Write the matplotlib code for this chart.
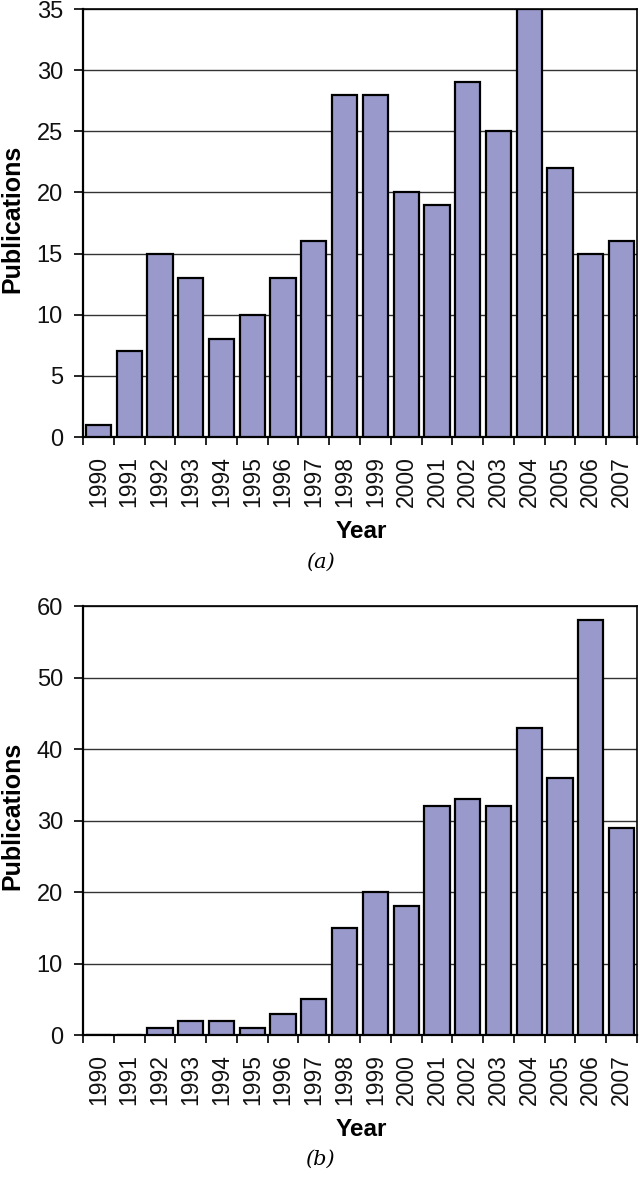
import matplotlib
matplotlib.use("Agg")
import matplotlib.pyplot as plt
import numpy as np

years = [str(y) for y in range(1990, 2008)]
pubs_a = [1, 7, 15, 13, 8, 10, 13, 16, 28, 28, 20, 19, 29, 25, 35, 22, 15, 16]
pubs_b = [0, 0, 1, 2, 2, 1, 3, 5, 15, 20, 18, 32, 33, 32, 43, 36, 58, 29]

plt.rcParams['font.family'] = ['Liberation Sans', 'DejaVu Sans']

bar_color = "#9999cc"

W, H = 640, 1193
fig = plt.figure(figsize=(W / 100, H / 100), dpi=100)


def draw_panel(ax, values, ymax, ystep, tag, tag_y, year_y):
    x = np.arange(len(values))
    ax.set_axisbelow(True)
    ax.bar(x, values, width=0.82, color=bar_color, edgecolor="black", linewidth=1.6, zorder=3)
    ax.set_xlim(-0.5, len(values) - 0.5)
    ax.set_ylim(0, ymax)
    ax.set_yticks(np.arange(0, ymax + 1, ystep))
    ax.yaxis.grid(True, color="#333333", linewidth=1.0)
    # ticks between the categories, labels in the middle
    ax.set_xticks(np.arange(-0.5, len(values), 1.0))
    ax.set_xticklabels([])
    ax.set_xticks(x, minor=True)
    ax.set_xticklabels(years, minor=True, rotation=90, fontsize=16.5, color="#111111")
    ax.tick_params(axis="x", which="major", direction="out", length=6, width=1.2)
    ax.tick_params(axis="x", which="minor", length=0, pad=14)
    ax.tick_params(axis="y", direction="out", length=6.5, width=1.2, labelsize=17,
                   labelcolor="#111111", pad=8)
    for s in ["left", "bottom"]:
        ax.spines[s].set_linewidth(1.6)
    for s in ["top", "right"]:
        ax.spines[s].set_linewidth(1.2)
    ax.set_ylabel("Publications", fontsize=18, fontweight="bold")
    ax.yaxis.set_label_coords(-0.106, 0.51)
    ax.set_xlabel("Year", fontsize=17.5, fontweight="bold", va="center")
    ax.xaxis.set_label_coords(0.503, year_y)
    fig.text(320 / W, tag_y, tag, fontsize=15, style="italic", family="DejaVu Serif",
             ha="center", va="center")


ax1 = fig.add_axes([83 / W, 1 - 437 / H, 554 / W, 428 / H])
draw_panel(ax1, pubs_a, 35, 5, "(a)", 1 - 562 / H, -(532 - 437) / 428)

ax2 = fig.add_axes([83 / W, 1 - 1035 / H, 554 / W, 429 / H])
draw_panel(ax2, pubs_b, 60, 10, "(b)", 1 - 1159 / H, -(1129 - 1035) / 429)

fig.savefig("out.png", dpi=100)
